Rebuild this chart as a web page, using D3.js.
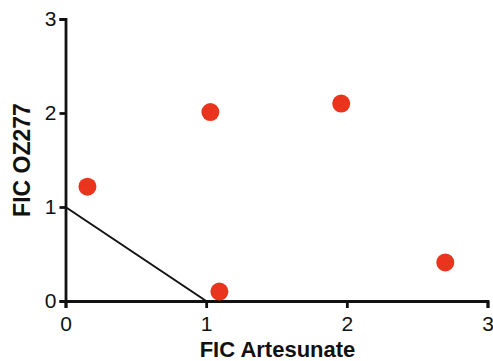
<!DOCTYPE html>
<html><head><meta charset="utf-8">
<script src="https://cdn.jsdelivr.net/npm/d3@7"></script>
<style>body{margin:0;background:#fff}</style>
</head><body>
<svg id="c" width="493" height="361"></svg>
<script>
const xValues = [0.156, 1.03, 1.96, 1.094, 2.70];
const yValues = [1.216, 2.01, 2.10, 0.10, 0.41];
const additivityX = [0, 1];
const additivityY = [1, 0];
const tickValues = [0, 1, 2, 3];
const xTitle = "FIC Artesunate";
const yTitle = "FIC OZ277";

const svg = d3.select("#c");
const m = {l: 65.5, r: 5.5, t: 19, b: 60};
const W = 493, H = 361;
const x = d3.scaleLinear().domain([0,3]).range([m.l, W - m.r]);
const y = d3.scaleLinear().domain([0,3]).range([H - m.b, m.t]);
const font = "'Liberation Sans', Arial, Helvetica, sans-serif";

const xa = svg.append("g").attr("transform", `translate(0,${H - m.b})`)
  .call(d3.axisBottom(x).tickValues(tickValues).tickFormat(d3.format("d")).tickSize(7).tickPadding(8));
const ya = svg.append("g").attr("transform", `translate(${m.l},0)`)
  .call(d3.axisLeft(y).tickValues(tickValues).tickFormat(d3.format("d")).tickSize(6).tickPadding(3));
[xa, ya].forEach(a => {
  a.select(".domain").attr("stroke", "#111").attr("stroke-width", 2.8);
  a.selectAll(".tick line").attr("stroke", "#111").attr("stroke-width", 2.8);
  a.selectAll(".tick text").attr("font-family", font).attr("font-size", 21).attr("fill", "#111");
});

svg.append("line")
  .attr("x1", x(additivityX[0])).attr("y1", y(additivityY[0]))
  .attr("x2", x(additivityX[1])).attr("y2", y(additivityY[1]))
  .attr("stroke", "#111").attr("stroke-width", 2);

svg.append("g").selectAll("circle").data(xValues.map((v,i)=>[v,yValues[i]]))
  .join("circle")
  .attr("cx", d => x(d[0])).attr("cy", d => y(d[1])).attr("r", 9)
  .attr("fill", "#ea341d");

svg.append("text").attr("x", (x(0)+x(3))/2 + 1).attr("y", 357)
  .attr("text-anchor", "middle").attr("font-family", font).attr("font-weight", "bold")
  .attr("font-size", 22).attr("fill", "#111").text(xTitle);
svg.append("text").attr("transform", `translate(30,${160}) rotate(-90)`)
  .attr("text-anchor", "middle").attr("font-family", font).attr("font-weight", "bold")
  .attr("font-size", 23).attr("fill", "#111").text(yTitle);
</script>
</body></html>
